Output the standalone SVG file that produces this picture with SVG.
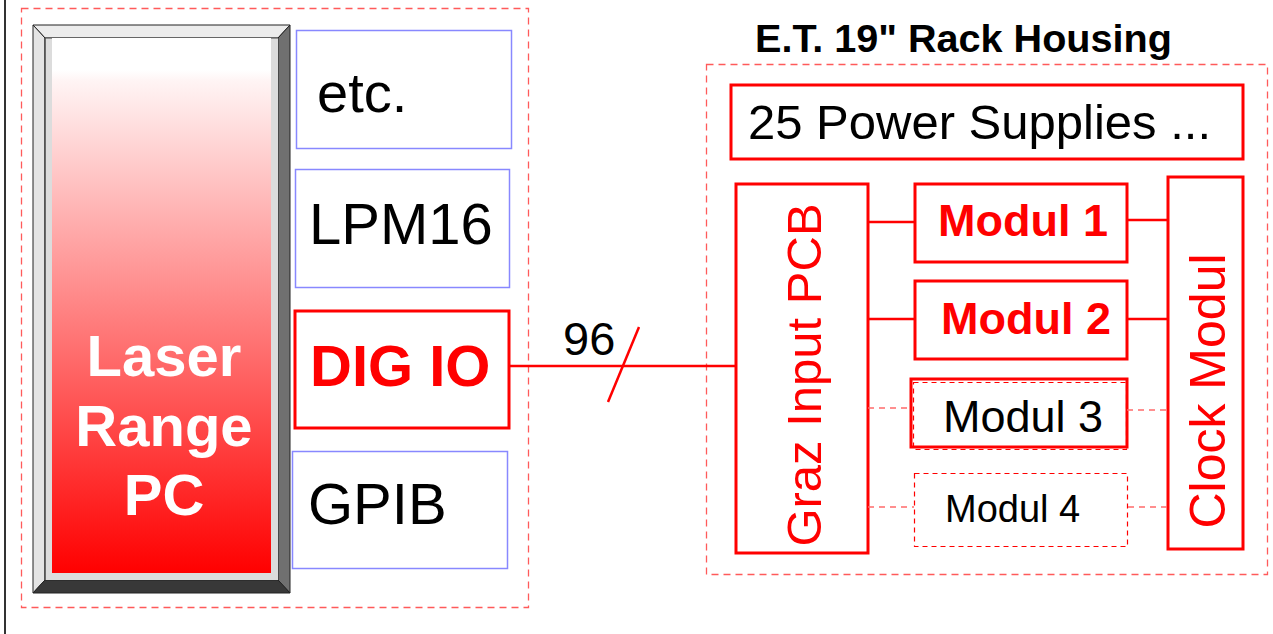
<svg xmlns="http://www.w3.org/2000/svg" width="1273" height="634" viewBox="0 0 1273 634">
<style>
.dash{fill:none;stroke:#ff5a5a;stroke-width:1.3;stroke-dasharray:7 5}
.blue{fill:#fff;stroke:#8888ff;stroke-width:1.5}
.red{fill:#fff;stroke:#ff0000;stroke-width:3}
.thin{fill:none;stroke:#ff0000;stroke-width:1.2;stroke-dasharray:5 4}
.ln{stroke:#ff0000;stroke-width:2.5;fill:none}
.lnd{stroke:#ff6b6b;stroke-width:1.5;fill:none;stroke-dasharray:6 5}
text{font-family:"Liberation Sans",Arial,sans-serif}
.b{font-weight:bold}
</style>
<defs>
<linearGradient id="face" x1="0" y1="0" x2="0" y2="1">
<stop offset="0" stop-color="#ffffff"/>
<stop offset="0.06" stop-color="#ffffff"/>
<stop offset="0.08" stop-color="#fff4f4"/>
<stop offset="1" stop-color="#ff0000"/>
</linearGradient>
</defs>
<rect width="1273" height="634" fill="#fff"/>
<line x1="5" y1="0" x2="5" y2="634" stroke="#333" stroke-width="2"/>
<rect class="dash" x="21.5" y="8.5" width="507" height="599"/>
<rect class="dash" x="706.5" y="64.5" width="561" height="510"/>
<g id="pc">
<polygon points="33,25 290,25 278,38 45,38" fill="#ececec" stroke="#222" stroke-width="1"/>
<polygon points="33,25 45,38 45,580 33,593" fill="#e4e4e4" stroke="#222" stroke-width="1"/>
<polygon points="290,25 290,593 278,580 278,38" fill="#707070" stroke="#222" stroke-width="1"/>
<polygon points="33,593 290,593 278,580 45,580" fill="#383838" stroke="#222" stroke-width="1"/>
<rect x="45" y="38" width="233" height="542" fill="#dcdcdc"/>
<line x1="45" y1="38" x2="45" y2="580" stroke="#444" stroke-width="1.5"/>
<line x1="45" y1="38" x2="278" y2="38" stroke="#444" stroke-width="1"/>
<rect x="52" y="38" width="219" height="535" fill="url(#face)"/>
<text class="b" x="164" y="376" font-size="58" fill="#fff" text-anchor="middle">Laser</text>
<text class="b" x="164" y="446" font-size="58" fill="#fff" text-anchor="middle">Range</text>
<text class="b" x="164" y="515" font-size="58" fill="#fff" text-anchor="middle">PC</text>
</g>
<g id="etc"><rect class="blue" x="296.5" y="30.5" width="215" height="118"/><text x="317" y="112" font-size="56">etc.</text></g>
<g id="lpm16"><rect class="blue" x="295.5" y="169.5" width="214" height="118"/><text x="309" y="244" font-size="58">LPM16</text></g>
<g id="digio"><rect class="red" x="295" y="311" width="214" height="117"/><text class="b" x="310" y="386" font-size="58" fill="#ff0000">DIG IO</text></g>
<g id="gpib"><rect class="blue" x="292.5" y="451.5" width="215" height="117"/><text x="308" y="524" font-size="58">GPIB</text></g>
<text class="b" x="755" y="52" font-size="39.6">E.T. 19" Rack Housing</text>
<g id="power"><rect class="red" x="731" y="85" width="512" height="74"/><text x="748" y="139" font-size="49">25 Power Supplies ...</text></g>
<g id="graz"><rect class="red" x="736" y="184" width="132" height="369"/><text transform="translate(821,375) rotate(-90)" x="0" y="0" font-size="49" fill="#ff0000" text-anchor="middle">Graz Input PCB</text></g>
<g id="modul1"><rect class="red" x="915" y="184" width="212" height="78"/><text class="b" x="938" y="236" font-size="45" fill="#ff0000">Modul 1</text></g>
<g id="modul2"><rect class="red" x="915" y="281" width="212" height="78"/><text class="b" x="941" y="334" font-size="45" fill="#ff0000">Modul 2</text></g>
<g id="modul3"><rect class="red" x="911" y="379" width="216" height="68"/><rect class="thin" x="913.5" y="382.5" width="213" height="67" stroke="#ff7070"/><text x="943" y="432" font-size="45">Modul 3</text></g>
<g id="modul4"><rect class="thin" x="914.5" y="473.5" width="213" height="73"/><text x="945" y="522" font-size="38">Modul 4</text></g>
<g id="clock"><rect class="red" x="1168" y="177" width="75" height="372"/><text transform="translate(1225,391) rotate(-90)" x="0" y="0" font-size="50" fill="#ff0000" text-anchor="middle">Clock Modul</text></g>
<g id="connectors">
<line class="ln" x1="509" y1="366" x2="735" y2="366"/>
<line class="ln" x1="608" y1="402" x2="639" y2="327"/>
<text x="563" y="355" font-size="47">96</text>
<line class="ln" x1="868" y1="222" x2="915" y2="222"/>
<line class="ln" x1="1127" y1="220" x2="1168" y2="220"/>
<line class="ln" x1="868" y1="319" x2="915" y2="319"/>
<line class="ln" x1="1127" y1="319" x2="1168" y2="319"/>
<line class="lnd" x1="868" y1="408" x2="911" y2="408"/>
<line class="lnd" x1="1127" y1="410" x2="1168" y2="410"/>
<line class="lnd" x1="868" y1="507" x2="914" y2="507"/>
<line class="lnd" x1="1128" y1="507" x2="1168" y2="507"/>
</g>
</svg>
